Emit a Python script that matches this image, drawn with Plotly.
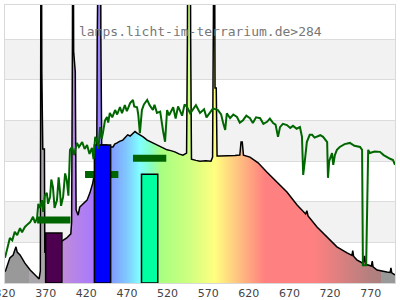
import plotly.graph_objects as go

# ---------------- data ----------------
lamp_nm = [320, 321, 326, 330, 333.5, 335, 338.5, 344.5, 351, 357, 362, 363.5, 364.5, 365.3, 366.5, 368.5, 369,
           375, 385, 390, 396, 401, 402, 403, 403.5, 404.5, 406.5, 407.5, 410, 412, 416, 421, 424.5, 428, 431,
           433, 433.5, 434.8, 437.2, 438, 439, 445, 450.5, 453, 455, 458, 461, 465, 468, 471, 474, 477.5, 480,
           482.5, 486, 490, 495, 502, 506, 511, 515, 519.5, 524, 529, 534, 539, 543.5, 544.5, 545.5, 547.5, 548.5,
           549.5, 555, 560, 567, 573.5, 575.5, 576.5, 577.3, 578.5, 580, 581, 585, 596, 603, 609, 610.5, 612,
           613.5, 621.5, 631.5, 642.5, 655, 667, 679.5, 690, 691.5, 693, 704, 716, 728.5, 741, 747, 748, 749,
           753, 761, 762.5, 764, 771, 772, 773, 778, 790, 794, 795, 796, 800]
lamp_val = [2.8, 3.2, 6.2, 6.9, 8.9, 7.6, 6.9, 4.9, 3.2, 2.0, 1.0, 3.0, 120, 52, 33, 33, 7.6,
            7.8, 9.0, 10.3, 11.1, 12.1, 15, 60, 130, 57, 52, 18, 16.7, 18.7, 19.5, 20.4, 22.2, 24.6, 28,
            35, 60, 130, 130, 60, 34, 34, 33.5, 33.5, 34.2, 34.5, 34.9, 35.2, 35.9, 36.5, 36.2, 36.9, 37.3,
            36.9, 36.5, 36.0, 35.2, 34.5, 34.2, 33.7, 33.4, 32.8, 32.6, 32.3, 31.8, 31.5, 32, 60, 130, 130, 60,
            30.5, 30.2, 30.0, 30.1, 30.0, 31, 66, 130, 48, 48, 31.3, 31.3, 31.3, 31.4, 31.5, 34.7, 34.7,
            31.5, 31.0, 29.6, 27.3, 24.9, 22.4, 19.2, 17.0, 17.8, 16.5, 13.8, 11.3, 8.9, 7.4, 6.8, 8.0, 6.6,
            5.7, 4.8, 6.7, 4.6, 4.2, 5.4, 4.0, 3.2, 2.7, 2.6, 3.7, 2.5, 2.0]

sun_nm = [320, 322.5, 326, 329, 332, 335, 338.5, 341, 344.5, 348, 351, 354.5, 357, 359.5, 361, 363, 365.5, 367,
          369, 371.5, 373, 375.5, 377, 379, 381, 384, 386, 387.5, 389, 391.5, 394, 396, 398, 400, 402.5, 405,
          408.5, 411, 415, 418, 421, 424, 427, 429, 431, 433, 435, 437, 439, 440.5, 443, 445.5, 447, 449, 452,
          455.5, 458, 461.5, 464, 467.5, 470, 474, 477.5, 479, 482.5, 484, 486, 488.5, 491, 495, 498, 502, 504,
          507, 511, 514.5, 517, 519.5, 522, 527, 530, 533, 535, 538, 541, 544, 548, 551, 555, 560, 565, 568,
          572, 576, 582, 586, 588.5, 591, 593, 597, 601, 605.5, 609, 613, 617, 621.5, 625, 629, 634, 638,
          642.5, 646, 650, 653, 656, 658.5, 662, 667, 671, 674.5, 679, 683, 685.5, 687, 689, 691.5, 695, 698,
          701, 704, 708, 711.5, 714, 716.5, 717.5, 719, 722.5, 724, 726, 728.5, 732, 738, 744.5, 750, 757,
          759.5, 760.5, 764.5, 767, 769, 775, 781.5, 786, 790, 794, 797.5, 800]
sun_val = [6.2, 8.1, 11.1, 10.5, 12.6, 11.8, 13.5, 12.5, 13.8, 14.5, 15.0, 16.3, 14.8, 16.0, 19.5, 18.5, 20.4,
           17.5, 21.5, 22.2, 19.5, 21.2, 25.5, 23.6, 18.5, 20.4, 26.0, 22.9, 19.0, 21.2, 27.0, 25.4, 21.5, 32.8,
           33.5, 31.5, 34.5, 33.5, 34.7, 33.0, 34.0, 31.8, 33.3, 30.5, 36.0, 35.2, 33.0, 38.4, 35.5, 36.9, 40.0,
           40.9, 39.5, 41.9, 40.8, 42.6, 41.5, 43.3, 41.8, 43.8, 42.3, 44.3, 45.1, 43.5, 43.3, 41.5, 36.9, 42.6,
           44.0, 45.1, 43.8, 42.6, 43.9, 41.9, 42.2, 37.5, 34.8, 42.6, 41.3, 43.3, 40.5, 43.5, 42.6, 41.2, 44.0,
           43.3, 41.8, 42.6, 43.8, 41.9, 42.8, 40.8, 41.9, 43.0, 42.6, 41.5, 39.4, 37.7, 41.8, 40.6, 41.5, 40.9,
           39.5, 40.1, 41.2, 40.6, 39.4, 40.8, 40.6, 39.2, 39.7, 40.5, 39.4, 39.0, 36.0, 38.4, 39.2, 38.9, 38.2,
           38.7, 38.0, 38.4, 36.0, 26.6, 30.0, 34.7, 36.5, 36.5, 35.8, 36.0, 36.4, 36.0, 35.2, 34.7, 25.9, 30.0,
           32.0, 29.1, 31.5, 32.8, 33.5, 34.2, 34.5, 33.8, 33.5, 32.8, 4.4, 4.4, 32.8, 32.0, 32.4, 32.3, 31.5,
           31.0, 30.6, 30.3, 29.1]

bar_center = [380, 440, 498]
bar_height = [12.3, 34.0, 26.8]
bar_width = 20
bar_color = ["#4d0050", "#0000ff", "#00ffa0"]

dash_center = [380, 439, 498]
dash_level = [15.5, 26.7, 30.7]
dash_width = 41

tick_vals = [320, 370, 420, 470, 520, 570, 620, 670, 720, 770]

# spectrum colours along wavelength
grad_nm = [320, 349.9, 350, 369.9, 370, 390, 430, 450, 470, 486, 500, 512, 545, 578, 600, 620, 640, 700,
           770, 783, 783.1, 800]
grad_col = ["#999999", "#999999", "#aba6ab", "#aba6ab", "#c090d4", "#c08cd8", "#a878ff", "#8098ff", "#80c8ff",
            "#80ffff", "#88ffc0", "#a8ff80", "#ccff80", "#ffff80", "#ffd080", "#ffa880", "#ff8080", "#ff8080",
            "#b47f7f", "#ac7f7f", "#999999", "#999999"]

XMIN, XMAX = 320, 800
YMAX = 68.47

fig = go.Figure()

# alternating background bands
for lo in (10, 30, 50):
    fig.add_shape(type="rect", xref="paper", x0=0, x1=1, yref="y", y0=lo, y1=lo + 10,
                  fillcolor="#f2f2f2", line_width=0, layer="below")

scale = [[(n - XMIN) / (XMAX - XMIN), c] for n, c in zip(grad_nm, grad_col)]
fig.add_trace(go.Scatter(x=lamp_nm, y=lamp_val, mode="lines", fill="tozeroy",
                         fillgradient=dict(type="horizontal", colorscale=scale, start=XMIN, stop=XMAX),
                         line=dict(color="black", width=1.5), hoverinfo="skip", showlegend=False))

# green level dashes
dx, dy = [], []
for c, lv in zip(dash_center, dash_level):
    dx += [c - dash_width / 2, c + dash_width / 2, None]
    dy += [lv, lv, None]
fig.add_trace(go.Scatter(x=dx, y=dy, mode="lines", line=dict(color="#006400", width=7),
                         showlegend=False, hoverinfo="skip"))

# bars (drawn as polygons so they sit above the spectrum fill)
for c, h, col in zip(bar_center, bar_height, bar_color):
    x0, x1 = c - bar_width / 2, c + bar_width / 2
    fig.add_trace(go.Scatter(x=[x0, x0, x1, x1, x0], y=[0, h, h, 0, 0], mode="lines", fill="toself",
                             fillcolor=col, line=dict(color="black", width=1.5),
                             showlegend=False, hoverinfo="skip"))

# daylight reference line
fig.add_trace(go.Scatter(x=sun_nm, y=sun_val, mode="lines", line=dict(color="#006600", width=2),
                         showlegend=False, hoverinfo="skip"))

fig.add_annotation(text="lamps.licht-im-terrarium.de>284", xref="paper", yref="paper", x=0.5, y=0.906,
                   xanchor="center", yanchor="middle", showarrow=False,
                   font=dict(family="DejaVu Sans Mono", size=13, color="#777777"))

fig.update_layout(
    width=400, height=300,
    margin=dict(l=5, r=5, t=5, b=17, autoexpand=False),
    paper_bgcolor="white", plot_bgcolor="white",
    xaxis=dict(range=[XMIN, XMAX], tickvals=tick_vals, ticktext=[str(v) for v in tick_vals],
               ticklabeloverflow="allow", automargin=False,
               showgrid=False, zeroline=False, showline=True, mirror=True, linecolor="#d9d9d9", linewidth=1,
               ticks="", tickfont=dict(family="DejaVu Sans", size=11, color="#444444")),
    yaxis=dict(range=[0, YMAX], dtick=10, showticklabels=False, showgrid=True, gridcolor="#dcdcdc",
               gridwidth=1, zeroline=False, showline=True, mirror=True, linecolor="#d9d9d9", linewidth=1,
               ticks="", automargin=False),
)

fig.write_html("out.html")
